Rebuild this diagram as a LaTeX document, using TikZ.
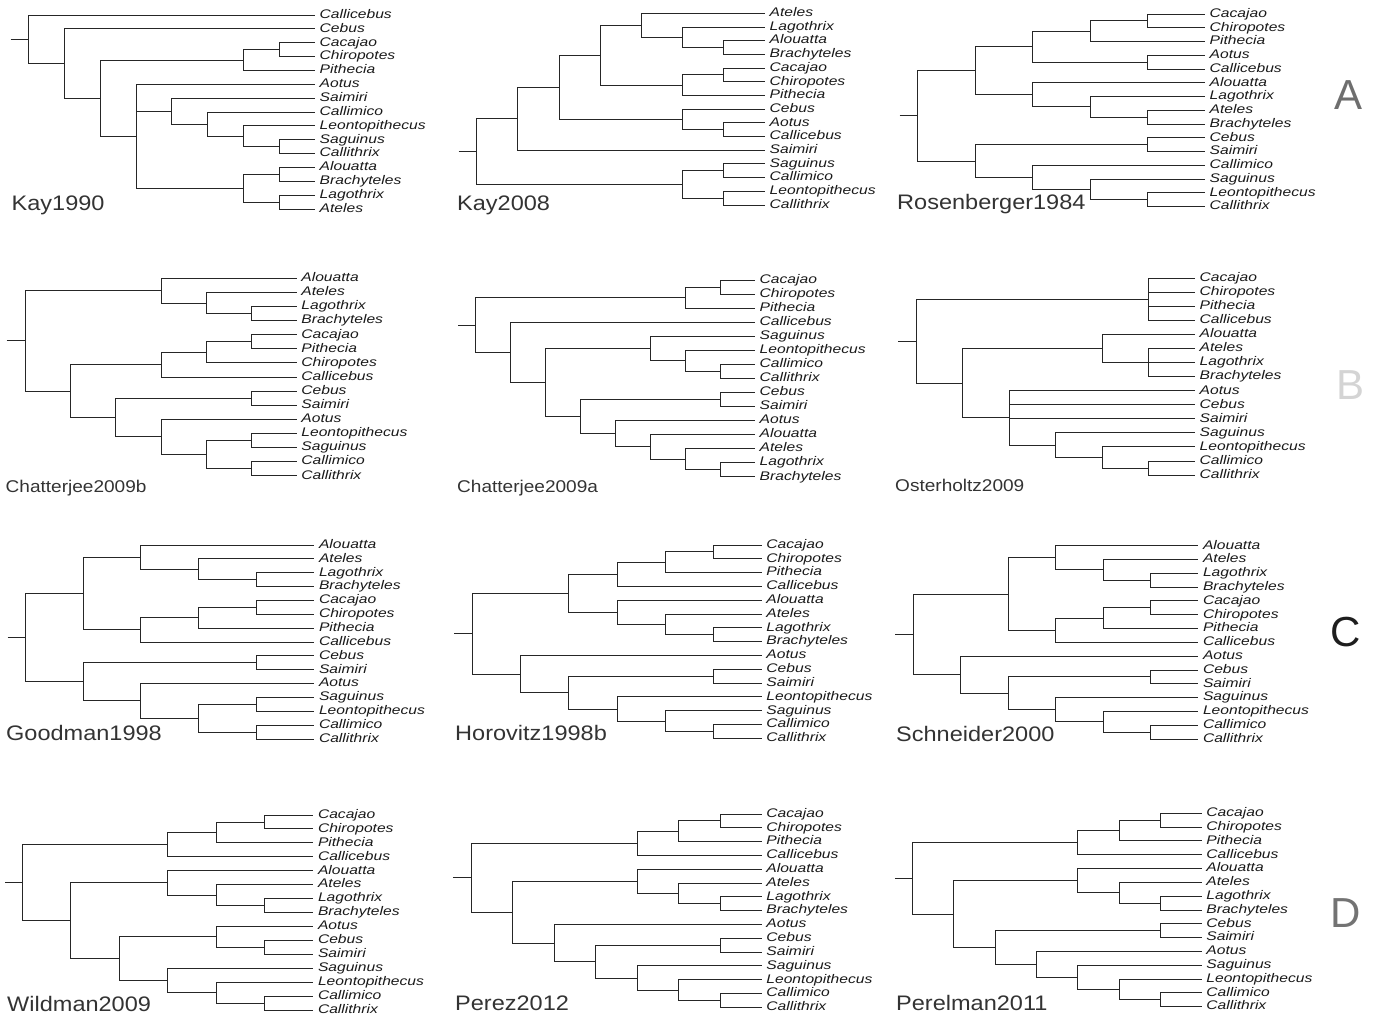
\documentclass[tikz,border=0pt]{standalone}
\usepackage{fontspec}
\newfontfamily\labfont[FakeStretch=1.25]{Liberation Sans}
\newfontfamily\titlefont[FakeStretch=1.12]{Liberation Sans}
\newfontfamily\letfont{Liberation Sans}
\definecolor{colA}{RGB}{110,110,110}
\definecolor{colB}{RGB}{212,212,212}
\definecolor{colC}{RGB}{30,30,30}
\definecolor{colD}{RGB}{115,115,115}
\tikzset{
  br/.style={line width=0.9pt, draw=black!85},
  leaf/.style={anchor=west, inner xsep=4.5pt, inner ysep=0pt, text height=9.3pt, text depth=2.7pt,
    font=\labfont\itshape\fontsize{12.5}{14}\selectfont, text=black!90},
  ttl/.style={anchor=base west, inner sep=0pt, font=\titlefont\fontsize{21}{24}\selectfont, text=black!80},
  ttlsmall/.style={ttl, font=\titlefont\fontsize{17}{20}\selectfont},
  rowlet/.style={anchor=center, inner sep=0pt, font=\letfont\fontsize{42}{46}\selectfont}
}
\newcommand\leaves[2]{%
  \foreach \lname [count=\li from 0] in {#2} {%
    \node[leaf] (#1\li) at (0,\li) {\lname};%
    \expandafter\xdef\csname ix@#1\li\endcsname{\li}}}
\newcommand\inode[3]{%
  \foreach \chn [count=\k] in {#3} {\ifnum\k=1 \xdef\firstc{\chn}\fi \xdef\lastc{\chn}}%
  \edef\ya{\csname ix@\firstc\endcsname}\edef\yb{\csname ix@\lastc\endcsname}%
  \pgfmathsetmacro\tmpix{(\ya+\yb)/2}%
  \expandafter\xdef\csname ix@#1\endcsname{\tmpix}%
  \coordinate (#1) at (#2,\tmpix);%
  \foreach \chn in {#3} {\draw[br] (#1) |- (\chn);}}
\newcommand\stub[2]{\coordinate (#1s) at ([xshift=-#2pt]#1); \draw[br] (#1s) -- (#1);}
\begin{document}
\begin{tikzpicture}[x=1pt,y=-1pt]
\useasboundingbox (0,0) rectangle (1375,1019);
% ---------- Kay1990
\begin{scope}[shift={(315,15)}, x=-35.8pt, y=-13.86pt]
\leaves{ka}{Callicebus,Cebus,Cacajao,Chiropotes,Pithecia,Aotus,Saimiri,Callimico,Leontopithecus,Saguinus,Callithrix,Alouatta,Brachyteles,Lagothrix,Ateles}
\inode{kaA}{1}{ka2,ka3}
\inode{kaB}{2}{kaA,ka4}
\inode{kaC}{1}{ka9,ka10}
\inode{kaD}{2}{ka8,kaC}
\inode{kaE}{3}{ka7,kaD}
\inode{kaF}{4}{ka6,kaE}
\inode{kaG}{1}{ka11,ka12}
\inode{kaH}{1}{ka13,ka14}
\inode{kaI}{2}{kaG,kaH}
\inode{kaJ}{5}{ka5,kaF,kaI}
\inode{kaK}{6}{kaB,kaJ}
\inode{kaL}{7}{ka1,kaK}
\inode{kaR}{8}{ka0,kaL}
\stub{kaR}{18}
\end{scope}
% ---------- Kay2008
\begin{scope}[shift={(765,13.3)}, x=-41.2pt, y=-13.69pt]
\leaves{kb}{Ateles,Lagothrix,Alouatta,Brachyteles,Cacajao,Chiropotes,Pithecia,Cebus,Aotus,Callicebus,Saimiri,Saguinus,Callimico,Leontopithecus,Callithrix}
\inode{kbA}{1}{kb2,kb3}
\inode{kbB}{2}{kb1,kbA}
\inode{kbC}{3}{kb0,kbB}
\inode{kbD}{1}{kb4,kb5}
\inode{kbE}{2}{kbD,kb6}
\inode{kbF}{4}{kbC,kbE}
\inode{kbG}{1}{kb8,kb9}
\inode{kbH}{2}{kb7,kbG}
\inode{kbI}{5}{kbF,kbH}
\inode{kbJ}{6}{kbI,kb10}
\inode{kbK}{1}{kb11,kb12}
\inode{kbL}{1}{kb13,kb14}
\inode{kbM}{2}{kbK,kbL}
\inode{kbR}{7}{kbJ,kbM}
\stub{kbR}{18}
\end{scope}
% ---------- Rosenberger1984
\begin{scope}[shift={(1205,14)}, x=-57.5pt, y=-13.76pt]
\leaves{ro}{Cacajao,Chiropotes,Pithecia,Aotus,Callicebus,Alouatta,Lagothrix,Ateles,Brachyteles,Cebus,Saimiri,Callimico,Saguinus,Leontopithecus,Callithrix}
\inode{roA}{1}{ro0,ro1}
\inode{roB}{2}{roA,ro2}
\inode{roC}{1}{ro3,ro4}
\inode{roD}{3}{roB,roC}
\inode{roE}{1}{ro7,ro8}
\inode{roF}{2}{ro6,roE}
\inode{roG}{3}{ro5,roF}
\inode{roH}{4}{roD,roG}
\inode{roI}{1}{ro9,ro10}
\inode{roJ}{1}{ro13,ro14}
\inode{roK}{2}{ro12,roJ}
\inode{roL}{3}{ro11,roK}
\inode{roM}{4}{roI,roL}
\inode{roR}{5}{roH,roM}
\stub{roR}{18}
\end{scope}
% ---------- Chatterjee2009b
\begin{scope}[shift={(296.7,278.3)}, x=-45.2pt, y=-14.1pt]
\leaves{cb}{Alouatta,Ateles,Lagothrix,Brachyteles,Cacajao,Pithecia,Chiropotes,Callicebus,Cebus,Saimiri,Aotus,Leontopithecus,Saguinus,Callimico,Callithrix}
\inode{cbA}{1}{cb2,cb3}
\inode{cbB}{2}{cb1,cbA}
\inode{cbC}{3}{cb0,cbB}
\inode{cbD}{1}{cb4,cb5}
\inode{cbE}{2}{cbD,cb6}
\inode{cbF}{3}{cbE,cb7}
\inode{cbG}{1}{cb8,cb9}
\inode{cbH}{1}{cb11,cb12}
\inode{cbI}{1}{cb13,cb14}
\inode{cbJ}{2}{cbH,cbI}
\inode{cbK}{3}{cb10,cbJ}
\inode{cbL}{4}{cbG,cbK}
\inode{cbM}{5}{cbF,cbL}
\inode{cbR}{6}{cbC,cbM}
\stub{cbR}{19}
\end{scope}
% ---------- Chatterjee2009a
\begin{scope}[shift={(755,280)}, x=-34.9pt, y=-14.05pt]
\leaves{ca}{Cacajao,Chiropotes,Pithecia,Callicebus,Saguinus,Leontopithecus,Callimico,Callithrix,Cebus,Saimiri,Aotus,Alouatta,Ateles,Lagothrix,Brachyteles}
\inode{caA}{1}{ca0,ca1}
\inode{caB}{2}{caA,ca2}
\inode{caC}{1}{ca6,ca7}
\inode{caD}{2}{ca5,caC}
\inode{caE}{3}{ca4,caD}
\inode{caF}{1}{ca8,ca9}
\inode{caG}{1}{ca13,ca14}
\inode{caH}{2}{ca12,caG}
\inode{caI}{3}{ca11,caH}
\inode{caJ}{4}{ca10,caI}
\inode{caK}{5}{caF,caJ}
\inode{caL}{6}{caE,caK}
\inode{caM}{7}{ca3,caL}
\inode{caR}{8}{caB,caM}
\stub{caR}{17.4}
\end{scope}
% ---------- Osterholtz2009
\begin{scope}[shift={(1195,278.3)}, x=-46.5pt, y=-14.05pt]
\leaves{os}{Cacajao,Chiropotes,Pithecia,Callicebus,Alouatta,Ateles,Lagothrix,Brachyteles,Aotus,Cebus,Saimiri,Saguinus,Leontopithecus,Callimico,Callithrix}
\inode{osA}{1}{os0,os1,os2,os3}
\inode{osB}{1}{os5,os6,os7}
\inode{osC}{2}{os4,osB}
\inode{osD}{1}{os13,os14}
\inode{osE}{2}{os12,osD}
\inode{osF}{3}{os11,osE}
\inode{osG}{4}{os8,os9,os10,osF}
\inode{osH}{5}{osC,osG}
\inode{osR}{6}{osA,osH}
\stub{osR}{17.7}
\end{scope}
% ---------- Goodman1998
\begin{scope}[shift={(314.3,545)}, x=-57.8pt, y=-13.86pt]
\leaves{go}{Alouatta,Ateles,Lagothrix,Brachyteles,Cacajao,Chiropotes,Pithecia,Callicebus,Cebus,Saimiri,Aotus,Saguinus,Leontopithecus,Callimico,Callithrix}
\inode{goA}{1}{go2,go3}
\inode{goB}{2}{go1,goA}
\inode{goC}{3}{go0,goB}
\inode{goD}{1}{go4,go5}
\inode{goE}{2}{goD,go6}
\inode{goF}{3}{goE,go7}
\inode{goG}{4}{goC,goF}
\inode{goH}{1}{go8,go9}
\inode{goI}{1}{go11,go12}
\inode{goJ}{1}{go13,go14}
\inode{goK}{2}{goI,goJ}
\inode{goL}{3}{go10,goK}
\inode{goM}{4}{goH,goL}
\inode{goR}{5}{goG,goM}
\stub{goR}{17.7}
\end{scope}
% ---------- Horovitz1998b
\begin{scope}[shift={(761.7,545)}, x=-48.2pt, y=-13.81pt]
\leaves{ho}{Cacajao,Chiropotes,Pithecia,Callicebus,Alouatta,Ateles,Lagothrix,Brachyteles,Aotus,Cebus,Saimiri,Leontopithecus,Saguinus,Callimico,Callithrix}
\inode{hoA}{1}{ho0,ho1}
\inode{hoB}{2}{hoA,ho2}
\inode{hoC}{3}{hoB,ho3}
\inode{hoD}{1}{ho6,ho7}
\inode{hoE}{2}{ho5,hoD}
\inode{hoF}{3}{ho4,hoE}
\inode{hoG}{4}{hoC,hoF}
\inode{hoH}{1}{ho9,ho10}
\inode{hoI}{1}{ho13,ho14}
\inode{hoJ}{2}{ho12,hoI}
\inode{hoK}{3}{ho11,hoJ}
\inode{hoL}{4}{hoH,hoK}
\inode{hoM}{5}{ho8,hoL}
\inode{hoR}{6}{hoG,hoM}
\stub{hoR}{18.3}
\end{scope}
% ---------- Schneider2000
\begin{scope}[shift={(1198.3,545.7)}, x=-47.5pt, y=-13.81pt]
\leaves{sc}{Alouatta,Ateles,Lagothrix,Brachyteles,Cacajao,Chiropotes,Pithecia,Callicebus,Aotus,Cebus,Saimiri,Saguinus,Leontopithecus,Callimico,Callithrix}
\inode{scA}{1}{sc2,sc3}
\inode{scB}{2}{sc1,scA}
\inode{scC}{3}{sc0,scB}
\inode{scD}{1}{sc4,sc5}
\inode{scE}{2}{scD,sc6}
\inode{scF}{3}{scE,sc7}
\inode{scG}{4}{scC,scF}
\inode{scH}{1}{sc9,sc10}
\inode{scI}{1}{sc13,sc14}
\inode{scJ}{2}{sc12,scI}
\inode{scK}{3}{sc11,scJ}
\inode{scL}{4}{scH,scK}
\inode{scM}{5}{sc8,scL}
\inode{scR}{6}{scG,scM}
\stub{scR}{18.3}
\end{scope}
% ---------- Wildman2009
\begin{scope}[shift={(313.3,815)}, x=-48.5pt, y=-13.93pt]
\leaves{wi}{Cacajao,Chiropotes,Pithecia,Callicebus,Alouatta,Ateles,Lagothrix,Brachyteles,Aotus,Cebus,Saimiri,Saguinus,Leontopithecus,Callimico,Callithrix}
\inode{wiA}{1}{wi0,wi1}
\inode{wiB}{2}{wiA,wi2}
\inode{wiC}{3}{wiB,wi3}
\inode{wiD}{1}{wi6,wi7}
\inode{wiE}{2}{wi5,wiD}
\inode{wiF}{3}{wi4,wiE}
\inode{wiG}{1}{wi9,wi10}
\inode{wiH}{2}{wi8,wiG}
\inode{wiI}{1}{wi13,wi14}
\inode{wiJ}{2}{wi12,wiI}
\inode{wiK}{3}{wi11,wiJ}
\inode{wiL}{4}{wiH,wiK}
\inode{wiM}{5}{wiF,wiL}
\inode{wiR}{6}{wiC,wiM}
\stub{wiR}{17.3}
\end{scope}
% ---------- Perez2012
\begin{scope}[shift={(761.7,814)}, x=-41.5pt, y=-13.81pt]
\leaves{pe}{Cacajao,Chiropotes,Pithecia,Callicebus,Alouatta,Ateles,Lagothrix,Brachyteles,Aotus,Cebus,Saimiri,Saguinus,Leontopithecus,Callimico,Callithrix}
\inode{peA}{1}{pe0,pe1}
\inode{peB}{2}{peA,pe2}
\inode{peC}{3}{peB,pe3}
\inode{peD}{1}{pe6,pe7}
\inode{peE}{2}{pe5,peD}
\inode{peF}{3}{pe4,peE}
\inode{peG}{1}{pe9,pe10}
\inode{peH}{1}{pe13,pe14}
\inode{peI}{2}{pe12,peH}
\inode{peJ}{3}{pe11,peI}
\inode{peK}{4}{peG,peJ}
\inode{peL}{5}{pe8,peK}
\inode{peM}{6}{peF,peL}
\inode{peR}{7}{peC,peM}
\stub{peR}{18.3}
\end{scope}
% ---------- Perelman2011
\begin{scope}[shift={(1201.7,813.3)}, x=-41.3pt, y=-13.81pt]
\leaves{pl}{Cacajao,Chiropotes,Pithecia,Callicebus,Alouatta,Ateles,Lagothrix,Brachyteles,Cebus,Saimiri,Aotus,Saguinus,Leontopithecus,Callimico,Callithrix}
\inode{plA}{1}{pl0,pl1}
\inode{plB}{2}{plA,pl2}
\inode{plC}{3}{plB,pl3}
\inode{plD}{1}{pl6,pl7}
\inode{plE}{2}{pl5,plD}
\inode{plF}{3}{pl4,plE}
\inode{plG}{1}{pl8,pl9}
\inode{plH}{1}{pl13,pl14}
\inode{plI}{2}{pl12,plH}
\inode{plJ}{3}{pl11,plI}
\inode{plK}{4}{pl10,plJ}
\inode{plL}{5}{plG,plK}
\inode{plM}{6}{plF,plL}
\inode{plR}{7}{plC,plM}
\stub{plR}{17.7}
\end{scope}
% ---------- titles
\node[ttl] (tka) at (11.5,210.7) {Kay1990};
\node[ttl] (tkb) at (457,210.7) {Kay2008};
\node[ttl] (tro) at (897,209) {Rosenberger1984};
\node[ttlsmall] (tcb) at (5.5,492) {Chatterjee2009b};
\node[ttlsmall] (tca) at (457,492) {Chatterjee2009a};
\node[ttlsmall] (tos) at (895,491) {Osterholtz2009};
\node[ttl] (tgo) at (6,740.7) {Goodman1998};
\node[ttl] (tho) at (455,740.7) {Horovitz1998b};
\node[ttl] (tsc) at (896,741.5) {Schneider2000};
\node[ttl] (twi) at (7,1011.5) {Wildman2009};
\node[ttl] (tpe) at (455,1010) {Perez2012};
\node[ttl] (tpl) at (896,1010.5) {Perelman2011};
% ---------- row letters
\node[rowlet, text=colA] (lA) at (1348,95) {A};
\node[rowlet, text=colB] (lB) at (1350,385) {B};
\node[rowlet, text=colC] (lC) at (1346,632) {C};
\node[rowlet, text=colD] (lD) at (1346,913) {D};
\end{tikzpicture}
\end{document}
